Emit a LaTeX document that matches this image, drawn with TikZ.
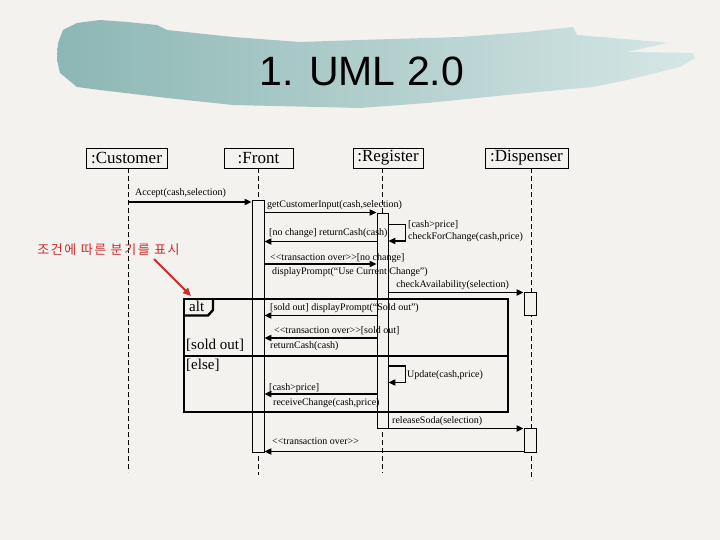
\documentclass[tikz,border=0pt]{standalone}
\usepackage{fontspec}
\setmainfont{Liberation Serif}
\newfontfamily\titlefont{Liberation Sans}
\newfontfamily\krfont[LetterSpace=12]{Noto Sans CJK KR}
\usetikzlibrary{arrows.meta}
\definecolor{paper}{HTML}{F3F2EE}
\definecolor{brushL}{HTML}{8CB7B4}
\definecolor{brushR}{HTML}{D6E6E6}
\definecolor{notered}{HTML}{D02A2A}
\newcommand\guiL{<\kern0pt<}
\newcommand\guiR{>\kern0pt>}
\begin{document}
\begin{tikzpicture}[x=1pt,y=-1pt,
  msg/.style={line width=1.7pt,-{Triangle[length=7pt,width=6pt]}},
  lbl/.style={font=\fontsize{10}{11}\selectfont, anchor=base west, inner sep=0pt},
  head/.style={draw, line width=0.8pt, font=\fontsize{17}{18}\selectfont, inner sep=0pt, minimum height=20pt},
  act/.style={draw, line width=0.7pt, fill=paper, inner sep=0pt, minimum width=12pt},
  life/.style={dash pattern=on 5pt off 3pt, line width=0.7pt},
  frameline/.style={line width=2.4pt},
  altlbl/.style={font=\fontsize{15}{16}\selectfont, anchor=base west, inner sep=0pt},
]
\fill[paper] (0,0) rectangle (720,540);
\useasboundingbox (0,0) rectangle (720,540);
% title brush
\shade[left color=brushL, right color=brushR]
  (63,30) -- (77,23) -- (100,20) -- (127,22) -- (157,25) -- (167,30) -- (233,37) -- (300,42)
  -- (360,40) -- (460,37) -- (527,32) -- (573,27) -- (577,35) -- (660,42) -- (667,43)
  -- (627,52) -- (693,53) -- (695,58) -- (680,67) -- (627,80) -- (593,87) -- (527,93)
  -- (427,103) -- (360,108) -- (233,105) -- (167,98) -- (100,90) -- (77,87) -- (60,73)
  -- (57,60) -- (58,43) -- cycle;
\node[font=\titlefont\fontsize{41}{44}\selectfont, inner sep=0pt] (title) at (362,71) {1. UML 2.0};

% heads
\node[head, minimum width=81pt] (cust) at (126.5,158) {:Customer};
\node[head, minimum width=69pt] (front) at (258.5,158) {:Front};
\node[head, minimum width=70pt] (reg) at (388,158) {:Register};
\node[head, minimum width=83pt] (disp) at (526.5,158) {:Dispenser};

% lifelines
\draw[life] (128,168) -- (128,472);
\draw[life] (258,168) -- (258,475);
\draw[life] (382,168) -- (382,473);
\draw[life] (531,168) -- (531,480);

% activations
\node[act, minimum height=252pt] (fa) at (258,326) {};
\node[act, minimum width=11pt, minimum height=215pt] (ra) at (382.5,320.5) {};
\node[act, minimum height=23pt] (da1) at (530,303.5) {};
\node[act, minimum height=24pt] (da2) at (530,440) {};

% rows
\coordinate (r1) at (0,202);
\coordinate (r2) at (0,212.5);
\coordinate (s1a) at (0,224.5);
\coordinate (s1b) at (0,241);
\coordinate (r4) at (0,241.5);
\coordinate (r5) at (0,264);
\coordinate (r6) at (0,292.5);
\coordinate (r7) at (0,315.5);
\coordinate (r8) at (0,338);
\coordinate (s2a) at (0,366);
\coordinate (s2b) at (0,382.5);
\coordinate (r10) at (0,394);
\coordinate (r11) at (0,428.5);
\coordinate (r12) at (0,451.5);
\coordinate (cl) at (128,0);

% messages
\draw[msg] (cl |- r1) -- (fa.west |- r1);
\node[lbl] (t1) at (135,196) {Accept(cash,selection)};
\draw[msg] (fa.east |- r2) -- (ra.west |- r2);
\node[lbl] (t2) at (267,207.5) {getCustomerInput(cash,selection)};
\draw[msg] (ra.east |- s1a) -- ++(17,0) |- (ra.east |- s1b);
\node[lbl] (t3a) at (408,227.5) {[cash>price]};
\node[lbl] (t3b) at (408,240) {checkForChange(cash,price)};
\draw[msg] (ra.west |- r4) -- (fa.east |- r4);
\node[lbl] (t4) at (269,235.5) {[no change] returnCash(cash)};
\draw[msg] (fa.east |- r5) -- (ra.west |- r5);
\node[lbl] (t5a) at (270,260.5) {\guiL transaction over\guiR [no change]};
\node[lbl] (t5b) at (272,274.5) {displayPrompt(“Use Current Change”)};
\draw[msg] (ra.east |- r6) -- (da1.west |- r6);
\node[lbl, anchor=base east] (t6) at (509,287) {checkAvailability(selection)};
\draw[msg] (ra.west |- r7) -- (fa.east |- r7);
\node[lbl] (t7) at (270,310) {[sold out] displayPrompt(“Sold out”)};
\draw[msg] (ra.west |- r8) -- (fa.east |- r8);
\node[lbl] (t8a) at (274,333) {\guiL transaction over\guiR[sold out]};
\node[lbl] (t8b) at (270,348) {returnCash(cash)};
\draw[msg] (ra.east |- s2a) -- ++(17,0) |- (ra.east |- s2b);
\node[lbl] (t9) at (407,377) {Update(cash,price)};
\draw[msg] (ra.west |- r10) -- (fa.east |- r10);
\node[lbl] (t10a) at (269,390) {[cash>price]};
\node[lbl] (t10b) at (273,405) {receiveChange(cash,price)};
\draw[msg] (ra.east |- r11) -- (da2.west |- r11);
\node[lbl] (t11) at (392,423) {releaseSoda(selection)};
\draw[msg] (da2.west |- r12) -- (fa.east |- r12);
\node[lbl] (t12) at (272,444.5) {\guiL transaction over\guiR};

% alt frame
\draw[frameline] (184,299) rectangle (508,412);
\draw[frameline] (184,356) -- (508,356);
\draw[frameline, line join=miter] (184,315.5) -- (208,315.5) -- (213,310) -- (213,299);
\node[altlbl] (alt) at (189,311.5) {alt};
\node[altlbl] (sold) at (186,349) {[sold out]};
\node[altlbl] (else) at (186,369) {[else]};

% annotation
\node[font=\krfont\fontsize{13}{15}\selectfont, text=notered, inner sep=0pt] (note) at (108.5,250) {조건에 따른 분기를 표시};
\coordinate (na) at (154,259);
\draw[notered, line width=2pt, -{Triangle[length=8pt,width=7pt]}] (na) -- (191,296);
\end{tikzpicture}
\end{document}
